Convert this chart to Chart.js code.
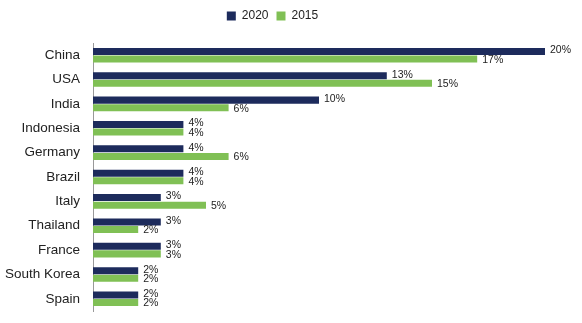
<!DOCTYPE html>
<html>
<head>
<meta charset="utf-8">
<style>
    html, body { margin: 0; padding: 0; background: #fff; overflow: hidden; }
</style>
</head>
<body>
<canvas id="countryChart" width="582" height="323"></canvas>
<script src="https://cdn.jsdelivr.net/npm/chart.js"></script>
<script>
    var countries = ['China', 'USA', 'India', 'Indonesia', 'Germany', 'Brazil', 'Italy', 'Thailand', 'France', 'South Korea', 'Spain'];
    var share2020 = [20, 13, 10, 4, 4, 4, 3, 3, 3, 2, 2];
    var share2015 = [17, 15, 6, 4, 6, 4, 5, 2, 3, 2, 2];

    // value labels at the end of each bar
    var barLabels = {
        id: 'barLabels',
        afterDatasetsDraw: function (chart) {
            var ctx = chart.ctx;
            ctx.save();
            ctx.font = '10.5px "Liberation Sans", Arial, sans-serif';
            ctx.fillStyle = '#222';
            ctx.textBaseline = 'middle';
            ctx.textAlign = 'left';
            chart.data.datasets.forEach(function (ds, i) {
                var meta = chart.getDatasetMeta(i);
                meta.data.forEach(function (bar, j) {
                    ctx.fillText(ds.data[j] + '%', bar.x + 5, bar.y + (i === 0 ? -1 : 1));
                });
            });
            ctx.restore();
        }
    };

    // extra space under the legend
    var legendGap = {
        id: 'legendGap',
        beforeInit: function (chart) {
            var fit = chart.legend.fit;
            chart.legend.fit = function () {
                fit.bind(chart.legend)();
                this.height += 11;
            };
        }
    };

    document.addEventListener('DOMContentLoaded', function () {
        var ctx = document.getElementById('countryChart').getContext('2d');
        new Chart(ctx, {
            type: 'bar',
            data: {
                labels: countries,
                datasets: [{
                    label: '2020',
                    data: share2020,
                    backgroundColor: '#1d2b5c',
                    categoryPercentage: 0.62,
                    barPercentage: 0.93
                }, {
                    label: '2015',
                    data: share2015,
                    backgroundColor: '#80c055',
                    categoryPercentage: 0.62,
                    barPercentage: 0.93
                }]
            },
            options: {
                indexAxis: 'y',
                responsive: false,
                animation: false,
                layout: { padding: { left: 0, right: 37, top: 2, bottom: 12 } },
                plugins: {
                    legend: {
                        position: 'top',
                        labels: {
                            boxWidth: 9,
                            boxHeight: 9,
                            padding: 8,
                            color: '#222',
                            font: { family: '"Liberation Sans", Arial, sans-serif', size: 12 }
                        }
                    },
                    tooltip: { enabled: false }
                },
                scales: {
                    x: {
                        display: false,
                        min: 0,
                        max: 20
                    },
                    y: {
                        grid: { display: false, drawTicks: false },
                        border: { color: '#999', width: 1 },
                        ticks: {
                            padding: 13,
                            color: '#222',
                            font: { family: '"Liberation Sans", Arial, sans-serif', size: 13.5 }
                        },
                        afterFit: function (scale) {
                            scale.width = 93;
                            scale.paddingTop = 0;
                            scale.paddingBottom = 0;
                        }
                    }
                }
            },
            plugins: [barLabels, legendGap]
        });
    });
</script>
</body>
</html>
